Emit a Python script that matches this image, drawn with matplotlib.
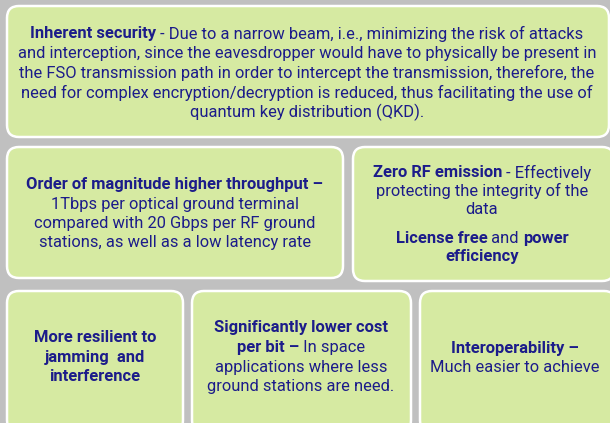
import matplotlib
matplotlib.use("Agg")
import matplotlib.pyplot as plt
from matplotlib.patches import FancyBboxPatch

# ---- content ----
B, R = "bold", "normal"
box1_lines = [
    [("Inherent security", B), (" - Due to a narrow beam, i.e., minimizing the risk of attacks", R)],
    [("and interception, since the eavesdropper would have to physically be present in", R)],
    [("the FSO transmission path in order to intercept the transmission, therefore, the", R)],
    [("need for complex encryption/decryption is reduced, thus facilitating the use of", R)],
    [("quantum key distribution (QKD).", R)],
]
box2_lines = [
    [("Order of magnitude higher throughput \u2013", B)],
    [("1Tbps per optical ground terminal", R)],
    [("compared with 20 Gbps per RF ground", R)],
    [("stations, as well as a low latency rate", R)],
]
box3_lines = [
    [("Zero RF emission", B), (" - Effectively", R)],
    [("protecting the integrity of the", R)],
    [("data", R)],
    [("License free", B), (" and ", R), ("power", B)],
    [("efficiency", B)],
]
box4_lines = [
    [("More resilient to", B)],
    [("jamming  and", B)],
    [("interference", B)],
]
box5_lines = [
    [("Significantly lower cost", B)],
    [("per bit \u2013", B), (" In space", R)],
    [("applications where less", R)],
    [("ground stations are need.", R)],
]
box6_lines = [
    [("Interoperability \u2013", B)],
    [("Much easier to achieve", R)],
]

# layout (pixel coordinates)
boxes = [
    ((7, 6, 609, 137), box1_lines, [32, 52, 71, 91, 110], 307),
    ((7, 147, 343, 278), box2_lines, [183, 203, 222, 241], 175),
    ((353, 147, 614, 281), box3_lines, [171, 189, 208, 237, 255], 482),
    ((7, 291, 183, 432), box4_lines, [336, 356, 375], 95),
    ((192, 291, 411, 432), box5_lines, [326, 346, 366, 385], 301),
    ((420, 291, 616, 432), box6_lines, [347, 366], 515),
]

BG = "#c0c0c0"
FILL = "#d6eaa2"
TXT = "#1c1c8a"
FAMILY = "Roboto"

fig = plt.figure(figsize=(6.1, 4.23), dpi=100, facecolor=BG)
ax = fig.add_axes([0, 0, 1, 1])
ax.set_xlim(0, 610)
ax.set_ylim(423, 0)
ax.axis("off")
ax.set_facecolor(BG)

renderer = fig.canvas.get_renderer()

def width_of(s, weight, size):
    t = ax.text(0, 0, s, fontsize=size, fontweight=weight, family=FAMILY)
    w = t.get_window_extent(renderer).width
    t.remove()
    return w

# scale font so a reference line matches its width in the picture (~574 px)
base = 11
w_ref = width_of(box1_lines[2][0][0], R, base)
FS = base * 574 / w_ref

for (x0, y0, x1, y1), lines, ys, cx in boxes:
    p = FancyBboxPatch((x0, y0), x1 - x0, y1 - y0,
                       boxstyle="round,pad=0,rounding_size=12",
                       facecolor=FILL, edgecolor="white", linewidth=1.8)
    ax.add_patch(p)
    for segs, y in zip(lines, ys):
        widths = [width_of(s, w, FS) for s, w in segs]
        total = sum(widths)
        x = cx - total / 2
        for (s, w), wd in zip(segs, widths):
            ax.text(x, y, s, fontsize=FS, fontweight=w, family=FAMILY,
                    color=TXT, ha="left", va="center_baseline")
            x += wd

fig.savefig("out.png", dpi=100, facecolor=BG)
